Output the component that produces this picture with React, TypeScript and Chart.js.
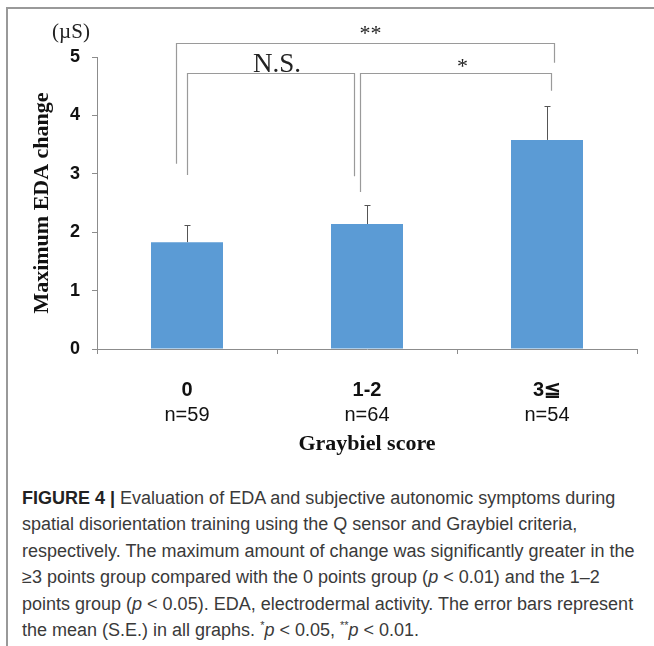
import React, { useEffect, useRef } from "react";
import { Chart, registerables } from "chart.js";

Chart.register(...registerables);

// ---- data ----
const categories = ["0", "1-2", "3≦"];
const groupSizes = ["n=59", "n=64", "n=54"];
const meanValues = [1.83, 2.14, 3.58];
const seValues = [0.3, 0.33, 0.58];
const yMin = 0;
const yMax = 5;
const yStep = 1;

// significance brackets: category positions (index units) and value levels
const bracketLabels = ["**", "N.S.", "*"];
const bracketStart = [-0.06, 0.0, 0.96];
const bracketEnd = [2.04, 0.93, 2.02];
const bracketLevel = [5.24, 4.72, 4.72];
const bracketStartLeg = [3.17, 2.98, 2.69];
const bracketEndLeg = [4.9, 2.96, 4.42];
const bracketLabelPos = [1.02, 0.5, 1.53];

const yTitle = "Maximum EDA change";
const xTitle = "Graybiel score";
const unitLabel = "(µS)";

const AXIS_COLOR = "#8c8c8c";
const BRACKET_COLOR = "#9a9a9a";
const SERIF = "'Liberation Serif', 'Times New Roman', serif";
const SANS = "'Liberation Sans', Arial, sans-serif";

const annotationPlugin = {
  id: "annotations",
  afterDatasetsDraw(chart: any) {
    const { ctx, scales } = chart;
    const x = scales.x;
    const y = scales.y;
    const meta = chart.getDatasetMeta(0);
    ctx.save();
    // error bars (upper only)
    ctx.strokeStyle = "#555555";
    ctx.lineWidth = 1;
    meta.data.forEach((bar: any, i: number) => {
      const px = Math.round(bar.x) + 0.5;
      const base = y.getPixelForValue(meanValues[i]);
      const top = Math.round(y.getPixelForValue(meanValues[i] + seValues[i])) + 0.5;
      ctx.beginPath();
      ctx.moveTo(px, base);
      ctx.lineTo(px, top);
      ctx.moveTo(px - 3, top);
      ctx.lineTo(px + 3, top);
      ctx.stroke();
    });
    // brackets
    ctx.strokeStyle = BRACKET_COLOR;
    ctx.lineWidth = 1.2;
    const catPx = (v: number) => {
      const p0 = x.getPixelForValue(0);
      const p1 = x.getPixelForValue(1);
      return p0 + (p1 - p0) * v;
    };
    bracketLabels.forEach((label, i) => {
      const xa = Math.round(catPx(bracketStart[i])) + 0.5;
      const xb = Math.round(catPx(bracketEnd[i])) + 0.5;
      const yl = Math.round(y.getPixelForValue(bracketLevel[i])) + 0.5;
      ctx.beginPath();
      ctx.moveTo(xa, y.getPixelForValue(bracketStartLeg[i]));
      ctx.lineTo(xa, yl);
      ctx.lineTo(xb, yl);
      ctx.lineTo(xb, y.getPixelForValue(bracketEndLeg[i]));
      ctx.stroke();
      ctx.fillStyle = "#222222";
      ctx.textAlign = "center";
      ctx.textBaseline = "alphabetic";
      if (label === "N.S.") {
        ctx.font = `27px ${SERIF}`;
        ctx.fillText(label, catPx(bracketLabelPos[i]), yl - 2);
      } else if (label === "**") {
        ctx.font = `22px ${SERIF}`;
        ctx.fillText(label, catPx(bracketLabelPos[i]), yl - 4);
      } else {
        ctx.font = `22px ${SERIF}`;
        ctx.fillText(label, catPx(bracketLabelPos[i]), yl - 1);
      }
    });
    // unit label
    ctx.font = `21px ${SERIF}`;
    ctx.fillStyle = "#222222";
    ctx.textAlign = "center";
    ctx.textBaseline = "middle";
    ctx.fillText(unitLabel, y.left + 71, y.getPixelForValue(yMax) - 25);
    ctx.restore();
  },
};

function BarChart() {
  const ref = useRef<HTMLCanvasElement | null>(null);
  useEffect(() => {
    if (!ref.current) return;
    const chart = new Chart(ref.current, {
      type: "bar",
      data: {
        labels: categories,
        datasets: [
          {
            data: meanValues,
            backgroundColor: "#5B9BD5",
            borderWidth: 0,
            categoryPercentage: 1,
            barPercentage: 0.4,
          },
        ],
      },
      options: {
        responsive: false,
        animation: false,
        devicePixelRatio: 1,
        layout: { padding: { top: 57, left: 0, right: 17, bottom: 11 } },
        plugins: {
          legend: { display: false },
          tooltip: { enabled: false },
        },
        scales: {
          x: {
            type: "category",
            position: "bottom",
            offset: true,
            grid: {
              offset: true,
              drawOnChartArea: false,
              drawTicks: true,
              tickLength: 5,
              color: AXIS_COLOR,
            },
            border: { color: AXIS_COLOR, width: 1 },
            ticks: {
              font: { family: SANS, size: 20, weight: "bold" },
              color: "#111111",
              padding: 24,
            },
            afterFit: (scale: any) => {
              scale.height = 50;
            },
          },
          x2: {
            type: "category",
            position: "bottom",
            labels: groupSizes,
            offset: true,
            grid: { display: false, drawTicks: false },
            border: { display: false },
            ticks: {
              font: { family: SANS, size: 20 },
              color: "#111111",
              padding: 4,
            },
            title: {
              display: true,
              text: xTitle,
              font: { family: SERIF, size: 22, weight: "bold" },
              color: "#111111",
              padding: { top: 0, bottom: 1 },
            },
            afterFit: (scale: any) => {
              scale.height = 60;
            },
          },
          y: {
            min: yMin,
            max: yMax,
            ticks: {
              stepSize: yStep,
              font: { family: SANS, size: 18, weight: "bold" },
              color: "#111111",
              padding: 12,
            },
            grid: {
              drawOnChartArea: false,
              drawTicks: true,
              tickLength: 5,
              color: AXIS_COLOR,
            },
            border: { color: AXIS_COLOR, width: 1 },
            title: {
              display: true,
              text: yTitle,
              font: { family: SERIF, size: 22, weight: "bold" },
              color: "#111111",
              padding: { top: 29, bottom: 0 },
            },
            afterFit: (scale: any) => {
              scale.width = 97;
            },
          },
        },
      },
      plugins: [annotationPlugin],
    } as any);
    return () => chart.destroy();
  }, []);
  return <canvas ref={ref} width={654} height={470} style={{ position: "absolute", left: 0, top: 0 }} />;
}

export default function App() {
  const lineStyle: React.CSSProperties = { whiteSpace: "nowrap", display: "block", height: 26.4 };
  const supStyle: React.CSSProperties = { fontSize: 11, verticalAlign: "baseline", position: "relative", top: -7, lineHeight: 0 };
  return (
    <div style={{ position: "absolute", left: 0, top: 0, width: 654, height: 646, background: "#fff", overflow: "hidden" }}>
      <div style={{ position: "absolute", left: 7, top: 7, width: 647, height: 2, background: "#999" }} />
      <div style={{ position: "absolute", left: 6, top: 7, width: 2, height: 639, background: "#999" }} />
      <BarChart />
      <div
        style={{
          position: "absolute",
          left: 22,
          top: 485,
          fontFamily: SANS,
          fontSize: 18,
          lineHeight: "26.4px",
          color: "#3a3a3a",
        }}
      >
        <span style={lineStyle}>
          <b style={{ color: "#222" }}>FIGURE 4 |</b> Evaluation of EDA and subjective autonomic symptoms during
        </span>
        <span style={lineStyle}>spatial disorientation training using the Q sensor and Graybiel criteria,</span>
        <span style={lineStyle}>respectively. The maximum amount of change was significantly greater in the</span>
        <span style={lineStyle}>
          ≥3 points group compared with the 0 points group (<i>p</i> &lt; 0.01) and the 1–2
        </span>
        <span style={lineStyle}>
          points group (<i>p</i> &lt; 0.05). EDA, electrodermal activity. The error bars represent
        </span>
        <span style={lineStyle}>
          the mean (S.E.) in all graphs. <span style={supStyle}>*</span>
          <i>p</i> &lt; 0.05, <span style={supStyle}>**</span>
          <i>p</i> &lt; 0.01.
        </span>
      </div>
    </div>
  );
}
